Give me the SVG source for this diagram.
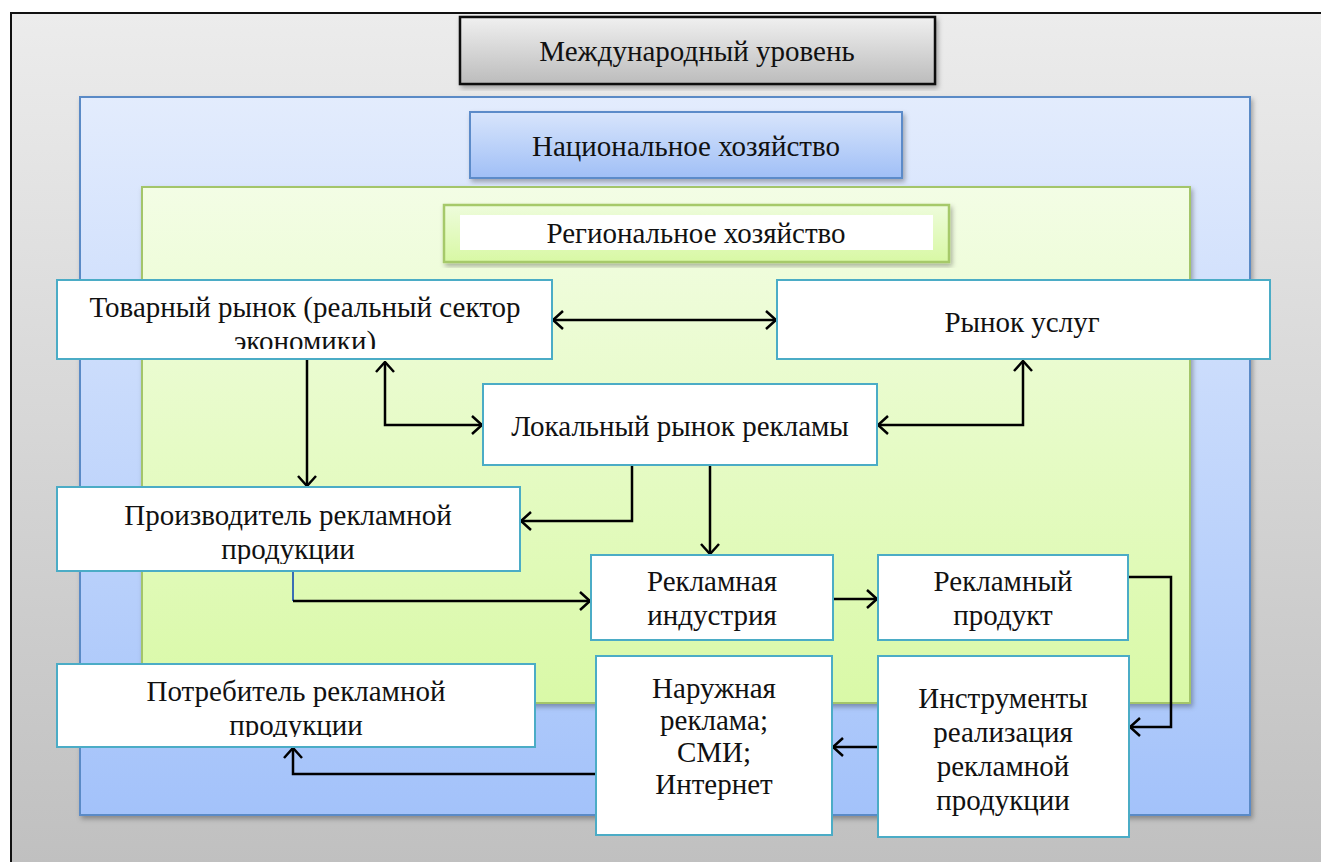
<svg xmlns="http://www.w3.org/2000/svg" width="1321" height="862" viewBox="0 0 1321 862">
<defs>
<linearGradient id="gGray" x1="0" y1="0" x2="0" y2="1"><stop offset="0" stop-color="#ececec"/><stop offset="1" stop-color="#bfbfbf"/></linearGradient>
<linearGradient id="gIntl" x1="0" y1="0" x2="0" y2="1"><stop offset="0" stop-color="#f0f0f0"/><stop offset="1" stop-color="#bcbcbc"/></linearGradient>
<linearGradient id="gBlue" x1="0" y1="0" x2="0" y2="1"><stop offset="0" stop-color="#e3ecfd"/><stop offset="1" stop-color="#a3c2fa"/></linearGradient>
<linearGradient id="gNat" x1="0" y1="0" x2="0" y2="1"><stop offset="0" stop-color="#d8e5fc"/><stop offset="1" stop-color="#a0bff6"/></linearGradient>
<linearGradient id="gGreen" x1="0" y1="0" x2="0" y2="1"><stop offset="0" stop-color="#f3fde5"/><stop offset="1" stop-color="#d9f9a7"/></linearGradient>
<linearGradient id="gReg" x1="0" y1="0" x2="0" y2="1"><stop offset="0" stop-color="#eefcdc"/><stop offset="1" stop-color="#d8f8a4"/></linearGradient>
<filter id="sh" x="-5%" y="-5%" width="110%" height="115%"><feDropShadow dx="2" dy="3" stdDeviation="2.5" flood-color="#000" flood-opacity="0.3"/></filter>
<marker id="ah" viewBox="0 0 12 20" refX="11" refY="10" markerWidth="12" markerHeight="20" markerUnits="userSpaceOnUse" orient="auto-start-reverse"><path d="M1,1 L11,10 L1,19" fill="none" stroke="#000" stroke-width="2.5"/></marker>
<clipPath id="cpTov"><rect x="57" y="280" width="495" height="69"/></clipPath>
<clipPath id="cpPro"><rect x="57" y="487" width="463" height="77"/></clipPath>
<clipPath id="cpPot"><rect x="57" y="664" width="478" height="73"/></clipPath>
</defs>
<style>
text{font-family:"Liberation Serif","DejaVu Serif",serif;font-size:29px;fill:#111;text-anchor:middle}
.node{fill:#fff;stroke:#4bacc6;stroke-width:2}
.conn{fill:none;stroke:#000;stroke-width:2.5}
</style>
<rect x="11" y="13" width="1330" height="870" fill="url(#gGray)" stroke="#111" stroke-width="2"/>
<g id="international">
<rect x="460" y="17" width="475" height="67" fill="url(#gIntl)" stroke="#111" stroke-width="2.5" filter="url(#sh)"/>
<text x="697" y="61">Международный уровень</text>
</g>
<g id="national-frame">
<rect x="80" y="97" width="1170" height="718" fill="url(#gBlue)" stroke="#5a8ac6" stroke-width="2" filter="url(#sh)"/>
</g>
<g id="national">
<rect x="470" y="112" width="432" height="66" fill="url(#gNat)" stroke="#5b8bc9" stroke-width="2" filter="url(#sh)"/>
<text x="686" y="156">Национальное хозяйство</text>
</g>
<g id="regional-frame">
<rect x="142" y="187" width="1048" height="516" fill="url(#gGreen)" stroke="#a3c56a" stroke-width="2" filter="url(#sh)"/>
</g>
<g id="regional">
<rect x="444" y="205" width="505" height="57" fill="url(#gReg)" stroke="#a6c96a" stroke-width="2.5" filter="url(#sh)"/>
<rect x="460" y="215" width="473" height="35" fill="#fff"/>
<text x="696" y="243">Региональное хозяйство</text>
</g>
<g id="connectors">
<line class="conn" x1="553" y1="320" x2="776" y2="320" marker-start="url(#ah)" marker-end="url(#ah)"/>
<line class="conn" x1="307" y1="359" x2="307" y2="486" marker-end="url(#ah)"/>
<polyline class="conn" points="385,362 385,425 482,425" marker-start="url(#ah)" marker-end="url(#ah)"/>
<polyline class="conn" points="878,425 1023,425 1023,361" marker-start="url(#ah)" marker-end="url(#ah)"/>
<polyline class="conn" points="632,465 632,521 521,521" marker-end="url(#ah)"/>
<line class="conn" x1="710" y1="465" x2="710" y2="554" marker-end="url(#ah)"/>
<line x1="293" y1="567" x2="293" y2="601" stroke="#3a6fb5" stroke-width="2"/>
<line class="conn" x1="293" y1="601" x2="590" y2="601" marker-end="url(#ah)"/>
<line class="conn" x1="834" y1="599" x2="877" y2="599" marker-end="url(#ah)"/>
<polyline class="conn" points="1128,577 1171,577 1171,727 1130,727" stroke-width="2" marker-end="url(#ah)"/>
<line class="conn" x1="878" y1="747" x2="833" y2="747" marker-end="url(#ah)"/>
<polyline class="conn" points="596,774 293,774 293,748" marker-end="url(#ah)"/>
</g>
<g id="tovarny">
<rect class="node" x="57" y="280" width="495" height="79"/>
<g clip-path="url(#cpTov)">
<text x="305" y="317">Товарный рынок (реальный сектор</text>
<text x="305" y="351">экономики)</text>
</g>
</g>
<g id="uslugi">
<rect class="node" x="777" y="280" width="493" height="79"/>
<text x="1022" y="332">Рынок услуг</text>
</g>
<g id="lokalny">
<rect class="node" x="483" y="384" width="394" height="81"/>
<text x="680" y="436">Локальный рынок рекламы</text>
</g>
<g id="proizvoditel">
<rect class="node" x="57" y="487" width="463" height="84"/>
<g clip-path="url(#cpPro)">
<text x="288" y="525">Производитель рекламной</text>
<text x="288" y="559">продукции</text>
</g>
</g>
<g id="industriya">
<rect class="node" x="591" y="555" width="242" height="85"/>
<text x="712" y="591">Рекламная</text>
<text x="712" y="625">индустрия</text>
</g>
<g id="produkt">
<rect class="node" x="878" y="555" width="250" height="85"/>
<text x="1003" y="591">Рекламный</text>
<text x="1003" y="625">продукт</text>
</g>
<g id="naruzhnaya">
<rect class="node" x="596" y="656" width="236" height="179"/>
<text x="714" y="698">Наружная</text>
<text x="714" y="730">реклама;</text>
<text x="714" y="762">СМИ;</text>
<text x="714" y="794">Интернет</text>
</g>
<g id="instrumenty">
<rect class="node" x="878" y="656" width="251" height="181"/>
<text x="1003" y="708">Инструменты</text>
<text x="1003" y="742">реализация</text>
<text x="1003" y="776">рекламной</text>
<text x="1003" y="810">продукции</text>
</g>
<g id="potrebitel">
<rect class="node" x="57" y="664" width="478" height="83"/>
<g clip-path="url(#cpPot)">
<text x="296" y="701">Потребитель рекламной</text>
<text x="296" y="735">продукции</text>
</g>
</g>
</svg>
